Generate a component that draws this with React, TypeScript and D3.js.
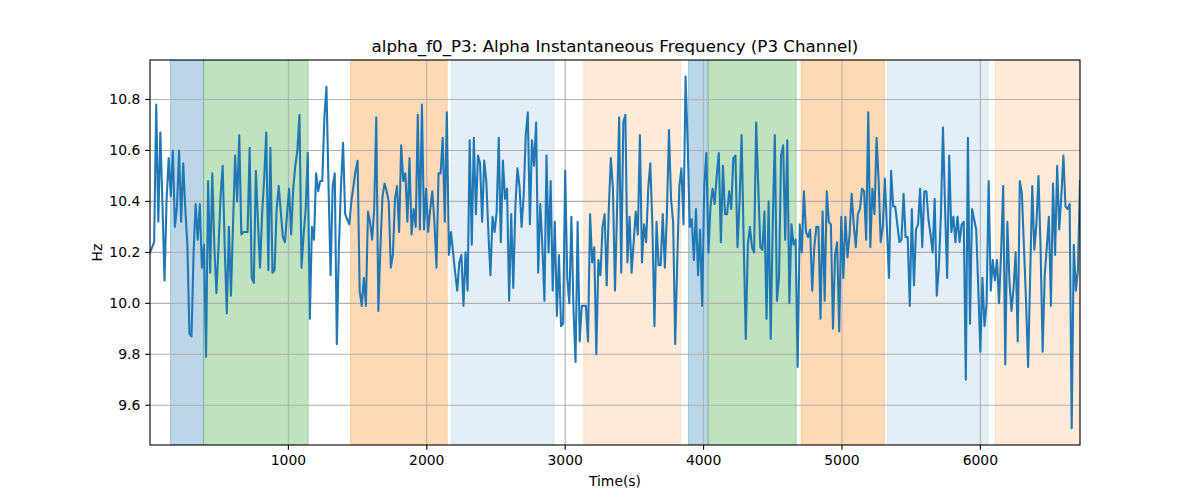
import React from "react";
import * as d3 from "d3";

// ---- data ----
const TITLE = "alpha_f0_P3: Alpha Instantaneous Frequency (P3 Channel)";
const X_LABEL = "Time(s)";
const Y_LABEL = "Hz";
const STEP = 15; // sampling period (s)

const VALUES_A = [
  10.20, 10.22, 10.24, 10.78, 10.32, 10.67, 10.39, 10.09, 10.41, 10.57,
  10.42, 10.60, 10.30, 10.38, 10.60, 10.32, 10.55, 10.37, 10.23, 9.88,
  9.87, 10.20, 10.39, 10.25, 10.39, 10.14, 10.23, 9.79, 10.48, 10.12,
  10.51, 10.22, 10.04, 10.22, 10.42, 10.54, 10.22, 9.96, 10.30, 10.03,
  10.31, 10.58, 10.40, 10.66, 10.27, 10.28, 10.28, 10.28, 10.61, 10.10,
  10.08, 10.52, 10.32, 10.14, 10.35, 10.49, 10.67, 10.13, 10.61, 10.12,
  10.13, 10.37, 10.46, 10.36, 10.26, 10.24, 10.35, 10.45, 10.27, 10.45,
  10.54, 10.60, 10.74, 10.14, 10.27,
];
const VALUES_B = [
  10.37, 10.59, 9.94, 10.30, 10.25, 10.51, 10.44, 10.48, 10.48, 10.73,
  10.85, 10.46, 10.11, 10.46, 10.51, 9.84, 10.22, 10.46, 10.63, 10.35,
  10.33, 10.31, 10.40, 10.46, 10.52, 10.56, 10.05, 9.99, 10.10, 9.99,
  10.36, 10.32, 10.25, 10.37, 10.73, 9.97, 10.22, 10.42, 10.47, 10.44,
  10.40, 10.14, 10.19, 10.41, 10.46, 10.28, 10.62, 10.48, 10.51, 10.32,
  10.57, 10.27, 10.37, 10.30, 10.74, 10.29, 10.78, 10.29, 10.45, 10.28,
  10.37, 10.44, 10.32, 10.14, 10.51, 10.51, 10.65, 10.32, 10.75, 10.19,
  10.28, 10.20, 10.12, 10.05, 10.16,
];
const VALUES_C = [
  10.19, 9.99, 10.20, 10.05, 10.64, 10.23, 10.65, 10.35, 10.58,
  10.55, 10.32, 10.56, 10.48, 10.28, 10.11, 10.34, 10.28, 10.36, 10.65,
  10.24, 10.56, 10.41, 10.45, 10.01, 10.35, 10.06, 10.38, 10.53, 10.46,
  10.30, 10.42, 10.66, 10.75, 10.31, 10.64, 10.54, 10.71, 10.12, 10.39,
  10.23, 10.01, 10.58, 10.20, 10.48, 10.05, 10.32, 9.95, 10.19, 9.91,
  9.92, 10.52, 10.10, 10.00, 10.34, 9.98, 9.77, 10.32, 9.85, 9.99,
  9.99, 9.99, 9.85, 10.35, 10.16, 10.22, 9.80, 10.17, 10.11, 10.30,
  10.35, 10.07, 10.37, 10.57, 10.45,
];
const VALUES_D = [
  10.05, 10.37, 10.73, 10.12, 10.71, 10.74, 10.16, 10.34, 10.12, 10.24,
  10.36, 10.27, 10.66, 10.16, 10.31, 10.24, 10.45, 10.55, 10.31, 9.91,
  10.32, 10.15, 10.15, 10.35, 10.14, 10.35, 10.68, 10.41, 10.32, 9.84,
  10.17, 10.46, 10.53, 10.31, 10.89, 10.63, 10.30, 10.33, 10.17, 10.37,
  10.11, 10.29, 9.99, 10.46, 10.59, 10.20, 10.38, 10.45, 10.39, 10.50,
  10.59, 10.24, 10.54, 10.35, 10.35, 10.44, 10.37, 10.57, 10.58, 10.22,
  10.40, 10.66, 10.24, 9.86, 10.23, 10.30, 10.22, 10.20, 10.71, 10.46,
  10.22, 10.21, 10.36, 9.94, 10.40,
];
const VALUES_E = [
  9.86, 10.32, 10.66, 10.01, 10.10, 10.58, 10.62, 10.25, 10.64,
  10.00, 10.31, 10.23, 10.25, 9.75, 10.31, 10.20, 10.44, 10.28, 10.26,
  10.29, 10.05, 10.22, 10.30, 10.30, 9.94, 10.36, 10.01, 10.44, 10.32,
  10.31, 9.90, 10.19, 10.24, 9.89, 10.34, 10.10, 10.34, 10.18, 10.27,
  10.43, 10.31, 10.22, 10.35, 10.37, 10.45, 10.44, 10.25, 10.75, 10.22,
  10.45, 10.35, 10.65, 10.48, 10.24, 10.30, 10.49, 10.29, 10.10, 10.52,
  10.38, 10.38, 10.31, 10.24, 10.25, 10.43, 10.26, 10.26, 9.99, 10.37,
  10.07, 10.29, 10.31, 10.45, 10.22,
];
const VALUES_F = [
  10.44, 10.44, 10.33, 10.27, 10.20, 10.41, 10.03, 10.14, 10.35, 10.69,
  10.37, 10.10, 10.58, 10.28, 10.34, 10.24, 10.34, 10.24, 10.31, 10.32,
  9.70, 10.65, 9.92, 10.37, 10.33, 10.29, 10.06, 9.81, 10.10, 9.91,
  10.00, 10.48, 10.05, 10.17, 10.09, 10.17, 10.00, 10.20, 10.46, 9.76,
  10.32, 10.09, 9.97, 10.06, 10.20, 9.85, 10.48, 10.43, 10.22, 10.01,
  9.75, 10.11, 10.46, 10.21, 10.31, 10.50, 10.22, 9.81, 10.11, 10.22,
  10.34, 9.99, 10.47, 10.19, 10.54, 10.29, 10.42, 10.58, 10.38, 10.37,
  10.39, 9.51, 10.23, 10.05, 10.13, 10.48,
];

// background spans: [start, end, kind]
const SPAN_START = [148, 387, 1449, 2178, 3134, 3891, 4033, 4705, 5329, 6109];
const SPAN_END = [387, 1143, 2147, 2920, 3833, 4033, 4669, 5307, 6056, 6720];
const SPAN_KIND = ["blue", "green", "orange", "lightblue", "lightorange",
  "blue", "green", "orange", "lightblue", "lightorange"];

const X_TICKS = [1000, 2000, 3000, 4000, 5000, 6000];
const Y_TICKS = [9.6, 9.8, 10.0, 10.2, 10.4, 10.6, 10.8];

const SPAN_STYLE: Record<string, { color: string; alpha: number }> = {
  blue: { color: "#1f77b4", alpha: 0.3 },
  green: { color: "#2ca02c", alpha: 0.3 },
  orange: { color: "#ff7f0e", alpha: 0.3 },
  lightblue: { color: "#1f77b4", alpha: 0.12 },
  lightorange: { color: "#ff7f0e", alpha: 0.16 },
};

const VALUES = [...VALUES_A, ...VALUES_B, ...VALUES_C, ...VALUES_D, ...VALUES_E, ...VALUES_F];
const DATA = VALUES.map((v, i) => ({ t: i * STEP, v }));

export default function App() {
  const W = 1200, H = 500;
  const L = 150, R = 1080, T = 60, B = 445;
  const tMax = (VALUES.length - 1) * STEP;
  const x = d3.scaleLinear().domain([0, tMax]).range([L, R]);
  const y = d3.scaleLinear().domain([9.444, 10.955]).range([B, T]);
  const line = d3.line<{ t: number; v: number }>().x(d => x(d.t)).y(d => y(d.v));
  const font = "DejaVu Sans, sans-serif";
  const tickLen = 4.86;

  return (
    <svg width={W} height={H} style={{ position: "absolute", left: 0, top: 0, background: "#fff" }}
      fontFamily={font}>
      <rect x={0} y={0} width={W} height={H} fill="#fff" />
      <defs>
        <clipPath id="clip"><rect x={L} y={T} width={R - L} height={B - T} /></clipPath>
      </defs>
      <g clipPath="url(#clip)">
        {SPAN_START.map((s, i) => {
          const st = SPAN_STYLE[SPAN_KIND[i]];
          return (
            <rect key={i} x={x(s)} y={T} width={x(SPAN_END[i]) - x(s)} height={B - T}
              fill={st.color} fillOpacity={st.alpha} stroke={st.color} strokeOpacity={st.alpha} strokeWidth={1} />
          );
        })}
        {X_TICKS.map(t => (
          <line key={"gx" + t} x1={x(t)} x2={x(t)} y1={T} y2={B} stroke="#b0b0b0" strokeWidth={1.1} />
        ))}
        {Y_TICKS.map(t => (
          <line key={"gy" + t} x1={L} x2={R} y1={y(t)} y2={y(t)} stroke="#b0b0b0" strokeWidth={1.1} />
        ))}
        <path d={line(DATA) || ""} fill="none" stroke="#1f77b4" strokeWidth={2.08}
          strokeLinejoin="round" strokeLinecap="square" />
      </g>
      <rect x={L} y={T} width={R - L} height={B - T} fill="none" stroke="#000" strokeWidth={1.1} />
      {X_TICKS.map(t => (
        <g key={"xt" + t}>
          <line x1={x(t)} x2={x(t)} y1={B} y2={B + tickLen} stroke="#000" strokeWidth={1.1} />
          <text x={x(t)} y={B + 20} fontSize={13.9} textAnchor="middle" fill="#000">{t}</text>
        </g>
      ))}
      {Y_TICKS.map(t => (
        <g key={"yt" + t}>
          <line x1={L - tickLen} x2={L} y1={y(t)} y2={y(t)} stroke="#000" strokeWidth={1.1} />
          <text x={L - 9.7} y={y(t) + 5} fontSize={13.9} textAnchor="end" fill="#000">{t.toFixed(1)}</text>
        </g>
      ))}
      <text x={(L + R) / 2} y={51.7} fontSize={16.7} textAnchor="middle" fill="#000">{TITLE}</text>
      <text x={(L + R) / 2} y={486} fontSize={13.9} textAnchor="middle" fill="#000">{X_LABEL}</text>
      <text transform={`translate(102, ${(T + B) / 2}) rotate(-90)`} fontSize={13.9} textAnchor="middle" fill="#000">{Y_LABEL}</text>
    </svg>
  );
}
